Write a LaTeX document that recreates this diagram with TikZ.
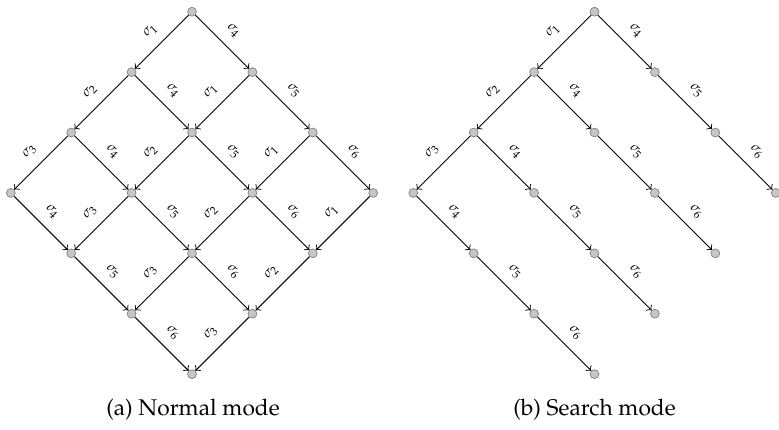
\documentclass[tikz,border=0pt]{standalone}
\usepackage[T1]{fontenc}
\usepackage{mathpazo}
\tikzset{
  state/.style={circle, fill=gray!45, draw=gray, inner sep=0pt, minimum size=3.9pt, line width=0.3pt},
  edgearr/.style={->, black, line width=0.4pt},
  lab/.style={midway, sloped, above=4.5pt, inner sep=0pt, font=\fontsize{6}{7}\selectfont},
  captext/.style={anchor=base, inner sep=0pt, font=\normalsize},
}
\begin{document}
\begin{tikzpicture}[x=0.44pt,y=-0.44pt]
\useasboundingbox (0,0) rectangle (779,429);
\def\s{60.4}
% (a) normal mode lattice
\foreach \i in {0,...,3}{\foreach \j in {0,...,3}{
  \node[state] (n\i\j) at ({192-\s*\i+\s*\j},{11.7+\s*(\i+\j)}) {};
}}
\foreach \i in {0,1,2}{\foreach \j in {0,...,3}{
  \pgfmathtruncatemacro\ii{\i+1}
  \draw[edgearr] (n\i\j) -- node[lab]{$\sigma_{\ii}$} (n\ii\j);
}}
\foreach \i in {0,...,3}{\foreach \j in {0,1,2}{
  \pgfmathtruncatemacro\jj{\j+1}
  \pgfmathtruncatemacro\k{\j+4}
  \draw[edgearr] (n\i\j) -- node[lab]{$\sigma_{\k}$} (n\i\jj);
}}
% (b) search mode tree
\foreach \i in {0,...,3}{\foreach \j in {0,...,3}{
  \node[state] (m\i\j) at ({594.5-\s*\i+\s*\j},{11.7+\s*(\i+\j)}) {};
}}
\foreach \i in {0,1,2}{
  \pgfmathtruncatemacro\ii{\i+1}
  \draw[edgearr] (m\i0) -- node[lab]{$\sigma_{\ii}$} (m\ii0);
}
\foreach \i in {0,...,3}{\foreach \j in {0,1,2}{
  \pgfmathtruncatemacro\jj{\j+1}
  \pgfmathtruncatemacro\k{\j+4}
  \draw[edgearr] (m\i\j) -- node[lab]{$\sigma_{\k}$} (m\i\jj);
}}
\node[captext] (capa) at (193,415) {(a) Normal mode};
\node[captext] (capb) at (594.5,415) {(b) Search mode};
\end{tikzpicture}
\end{document}
